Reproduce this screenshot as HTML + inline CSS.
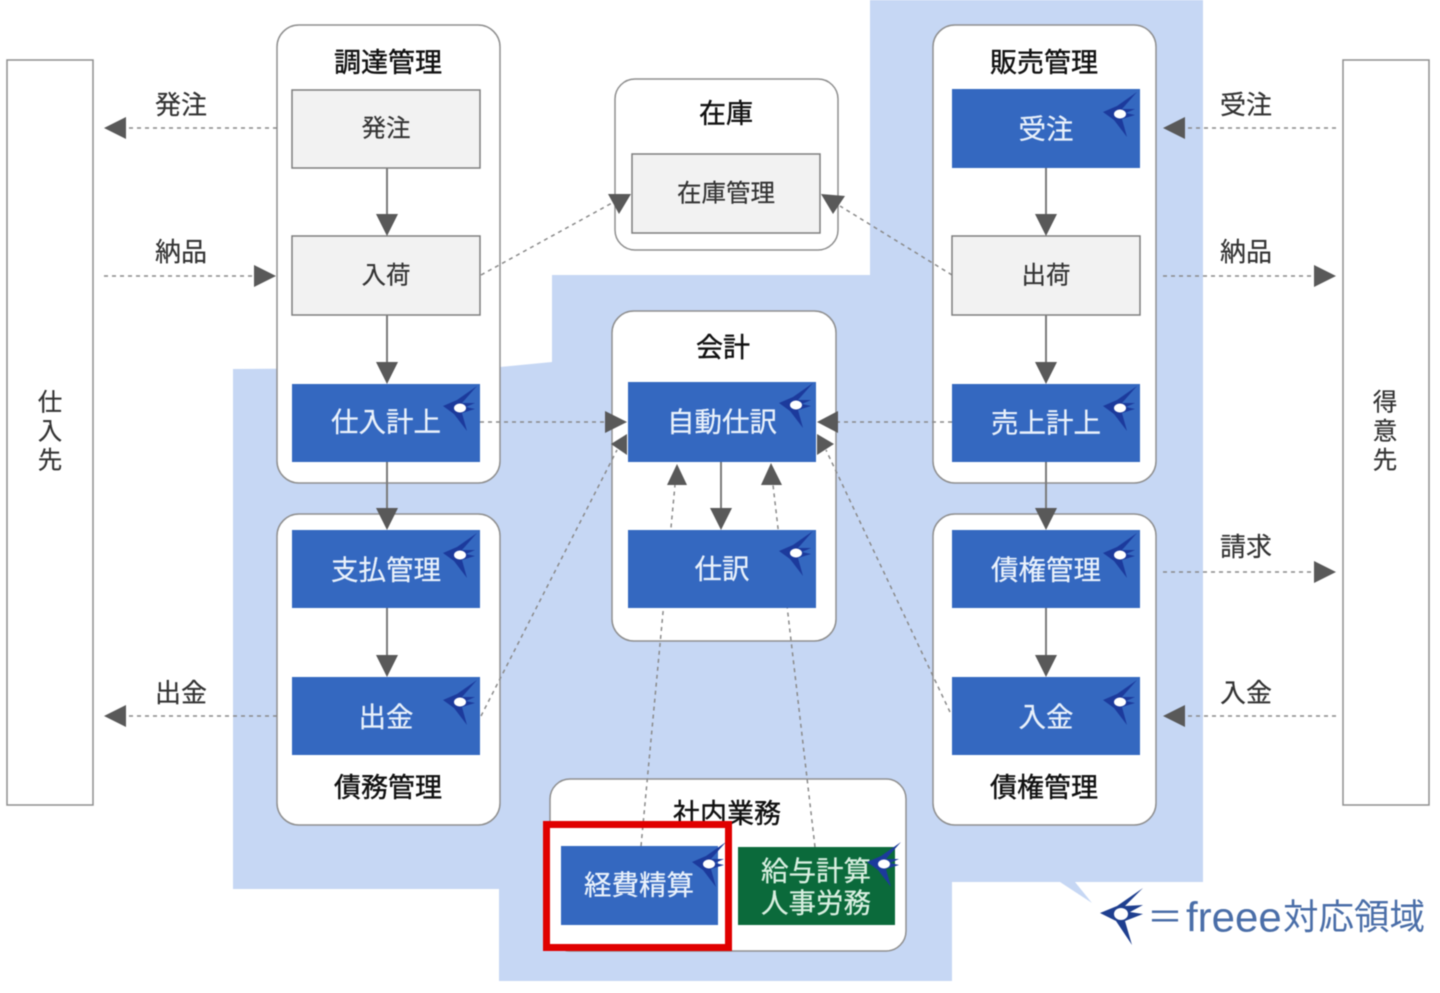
<!DOCTYPE html>
<html lang="ja">
<head>
<meta charset="utf-8">
<title>freee対応領域</title>
<style>
html,body{margin:0;padding:0;background:#fff;width:1440px;height:993px;overflow:hidden}
svg{display:block;filter:blur(.5px)}
text{font-family:"Liberation Sans","Noto Sans CJK JP",sans-serif;text-anchor:middle;dominant-baseline:central;transform:translateY(1px)}
.p{fill:#fff;stroke:#8f8f8f;stroke-width:1.5}
.g{fill:#f2f2f2;stroke:#7f7f7f;stroke-width:1.5}
.b{fill:#3468c0}
.d{fill:none;stroke:#8a8a8a;stroke-width:1.5;stroke-dasharray:4 4}
.s{fill:none;stroke:#7a7a7a;stroke-width:2}
.a{fill:#595959}
.t{font-size:27px;fill:#111;stroke:#111;stroke-width:.4}
.l{font-size:24.5px;fill:#333;stroke:#333;stroke-width:.2}
.o{font-size:26px;fill:#333;stroke:#333;stroke-width:.2}
.w{font-size:27.5px;fill:#e9f1fb;stroke:#e9f1fb;stroke-width:.25}
.f{fill:#4a6ea8;text-anchor:start}
</style>
</head>
<body>
<svg width="1440" height="993" viewBox="0 0 1440 993" xmlns="http://www.w3.org/2000/svg">
<defs>
<g id="bird">
<path d="M17,-22 L-3,-8 L-17,-2 L-6,6 L7,23 L2,5 L15,1 L6,-1 L15,-5 L2,-5 Z" fill="#1c3a9c"/>
<ellipse cx="0" cy="0" rx="6" ry="4.5" fill="#fff"/>
</g>
</defs>

<!-- freee region -->
<path d="M233,369 L500,367 L552,362 L552,275 L870,275 L870,0 L1203,0 L1203,882 L1075,882 L1092,903 L1060,882 L952,882 L952,981 L499,981 L499,889 L233,889 Z" fill="#c6d7f4"/>

<!-- side boxes -->
<rect x="7" y="60" width="86" height="745" fill="#fff" stroke="#8f8f8f" stroke-width="1.5"/>
<rect x="1343" y="60" width="86" height="745" fill="#fff" stroke="#8f8f8f" stroke-width="1.5"/>
<text class="l" x="50" y="402">仕</text>
<text class="l" x="50" y="431">入</text>
<text class="l" x="50" y="460">先</text>
<text class="l" x="1385" y="402">得</text>
<text class="l" x="1385" y="431">意</text>
<text class="l" x="1385" y="460">先</text>

<!-- panels -->
<rect class="p" x="277" y="25" width="223" height="458" rx="22"/>
<rect class="p" x="277" y="514" width="223" height="311" rx="22"/>
<rect class="p" x="615" y="79" width="223" height="171" rx="20"/>
<rect class="p" x="612" y="311" width="224" height="330" rx="22"/>
<rect class="p" x="933" y="25" width="223" height="458" rx="22"/>
<rect class="p" x="933" y="514" width="223" height="311" rx="22"/>
<rect class="p" x="550" y="779" width="356" height="172" rx="20"/>
<rect x="546" y="824" width="183" height="124" fill="#fff"/>

<!-- panel titles -->
<text class="t" x="388" y="62">調達管理</text>
<text class="t" x="388" y="787">債務管理</text>
<text class="t" x="726" y="113">在庫</text>
<text class="t" x="723" y="347">会計</text>
<text class="t" x="1044" y="62">販売管理</text>
<text class="t" x="1044" y="787">債権管理</text>
<text class="t" x="727" y="813">社内業務</text>

<!-- dashed connectors -->
<path class="d" d="M277,128 H125"/>
<path class="d" d="M104,276 H255"/>
<path class="d" d="M277,716 H125"/>
<path class="d" d="M1336,128 H1185"/>
<path class="d" d="M1163,276 H1314"/>
<path class="d" d="M1163,572 H1314"/>
<path class="d" d="M1336,716 H1185"/>
<path class="d" d="M481,275 L612,203"/>
<path class="d" d="M952,275 L840,206"/>
<path class="d" d="M480,422 H606"/>
<path class="d" d="M952,422 H838"/>
<path class="d" d="M481,716 L617,450"/>
<path class="d" d="M950,712 L826,450"/>
<path class="d" d="M641,846 L675,485"/>
<path class="d" d="M815,847 L773,485"/>

<!-- solid connectors -->
<path class="s" d="M387,168 V216"/>
<path class="s" d="M387,315 V364"/>
<path class="s" d="M387,462 V510"/>
<path class="s" d="M387,608 V657"/>
<path class="s" d="M1046,168 V216"/>
<path class="s" d="M1046,315 V364"/>
<path class="s" d="M1046,462 V510"/>
<path class="s" d="M1046,608 V657"/>
<path class="s" d="M721,462 V510"/>

<!-- grey boxes -->
<rect class="g" x="292" y="90" width="188" height="78"/>
<rect class="g" x="292" y="236" width="188" height="79"/>
<rect class="g" x="632" y="154" width="188" height="79"/>
<rect class="g" x="952" y="236" width="188" height="79"/>
<text class="l" x="386" y="128">発注</text>
<text class="l" x="386" y="275">入荷</text>
<text class="l" x="726" y="193">在庫管理</text>
<text class="l" x="1046" y="275">出荷</text>

<!-- blue boxes -->
<rect class="b" x="292" y="384" width="188" height="78"/>
<rect class="b" x="292" y="530" width="188" height="78"/>
<rect class="b" x="292" y="677" width="188" height="78"/>
<rect class="b" x="628" y="382" width="188" height="80"/>
<rect class="b" x="628" y="530" width="188" height="78"/>
<rect class="b" x="952" y="89" width="188" height="79"/>
<rect class="b" x="952" y="384" width="188" height="78"/>
<rect class="b" x="952" y="530" width="188" height="78"/>
<rect class="b" x="952" y="677" width="188" height="78"/>
<rect class="b" x="561" y="846" width="157" height="79"/>
<rect x="738" y="847" width="157" height="78" fill="#0b6a3b"/>

<text class="w" x="386" y="421">仕入計上</text>
<text class="w" x="386" y="569">支払管理</text>
<text class="w" x="386" y="716">出金</text>
<text class="w" x="722" y="421">自動仕訳</text>
<text class="w" x="722" y="568">仕訳</text>
<text class="w" x="1046" y="128">受注</text>
<text class="w" x="1046" y="422">売上計上</text>
<text class="w" x="1046" y="569">債権管理</text>
<text class="w" x="1046" y="716">入金</text>
<text class="w" x="639" y="884">経費精算</text>
<text class="w" x="816" y="870" style="fill:#d8efe0;stroke:#d8efe0">給与計算</text>
<text class="w" x="816" y="902" style="fill:#d8efe0;stroke:#d8efe0">人事労務</text>

<!-- bird marks -->
<use href="#bird" x="1120" y="114"/>
<use href="#bird" x="1120" y="408"/>
<use href="#bird" x="1120" y="555"/>
<use href="#bird" x="1120" y="702"/>
<use href="#bird" x="460" y="408"/>
<use href="#bird" x="460" y="555"/>
<use href="#bird" x="460" y="702"/>
<use href="#bird" x="796" y="405"/>
<use href="#bird" x="796" y="553"/>
<use href="#bird" x="709" y="864"/>
<use href="#bird" x="884" y="864"/>

<!-- arrowheads -->
<g class="a">
<path d="M104,128 L126,117 V139 Z"/>
<path d="M276,276 L254,265 V287 Z"/>
<path d="M104,716 L126,705 V727 Z"/>
<path d="M1163,128 L1185,117 V139 Z"/>
<path d="M1336,276 L1314,265 V287 Z"/>
<path d="M1336,572 L1314,561 V583 Z"/>
<path d="M1163,716 L1185,705 V727 Z"/>
<path d="M387,236 L376,214 H398 Z"/>
<path d="M387,384 L376,362 H398 Z"/>
<path d="M387,530 L376,508 H398 Z"/>
<path d="M387,677 L376,655 H398 Z"/>
<path d="M1046,236 L1035,214 H1057 Z"/>
<path d="M1046,384 L1035,362 H1057 Z"/>
<path d="M1046,530 L1035,508 H1057 Z"/>
<path d="M1046,677 L1035,655 H1057 Z"/>
<path d="M721,530 L710,508 H732 Z"/>
<path d="M627,422 L605,411 V433 Z"/>
<path d="M817,422 L838,411 V433 Z"/>
<path d="M611,444 L627,434 V455 Z"/>
<path d="M834,444 L817,434 V455 Z"/>
<path d="M677,464 L667,485 H687 Z"/>
<path d="M771,463 L761,485 H782 Z"/>
<path d="M608,194 L631,194 L619,214 Z"/>
<path d="M821,194 L845,196 L833,214 Z"/>
</g>

<!-- external labels -->
<text class="o" x="181" y="104">発注</text>
<text class="o" x="181" y="251">納品</text>
<text class="o" x="181" y="692">出金</text>
<text class="o" x="1246" y="104">受注</text>
<text class="o" x="1246" y="251">納品</text>
<text class="o" x="1246" y="546">請求</text>
<text class="o" x="1246" y="692">入金</text>

<!-- highlight -->
<rect x="546.5" y="824.5" width="182" height="123" fill="none" stroke="#e00000" stroke-width="7"/>

<!-- legend -->
<path d="M1143,888 L1117,906 L1100,913 L1116,921 L1132,945 L1125,921 L1143,914 L1130,912 L1143,905 L1125,906 Z" fill="#1f3f8f"/>
<ellipse cx="1121" cy="914" rx="7" ry="6" fill="#fff"/>
<text class="f" x="1147" y="916" font-size="36">＝</text>
<text class="f" x="1186" y="916" font-size="42">freee</text>
<text class="f" x="1283" y="916" font-size="35.5">対応領域</text>
</svg>
</body>
</html>
